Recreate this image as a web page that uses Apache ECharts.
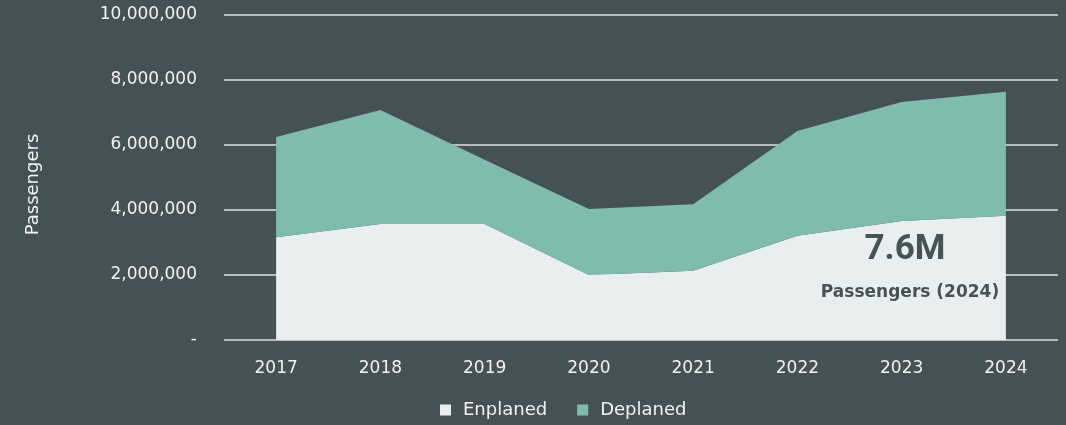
<!DOCTYPE html>
<html>
<head>
<meta charset="utf-8">
<script src="https://cdn.jsdelivr.net/npm/echarts@6/dist/echarts.min.js"></script>
<style>
  html, body { margin: 0; padding: 0; background: #445256; }
  #chart { width: 1066px; height: 425px; }
</style>
</head>
<body>
<div id="chart"></div>
<script>
// data
var years = ['2017', '2018', '2019', '2020', '2021', '2022', '2023', '2024'];
var enplaned = [3160000, 3570000, 3570000, 2000000, 2130000, 3210000, 3660000, 3820000];
var deplaned = [3090000, 3510000, 1980000, 2030000, 2050000, 3220000, 3660000, 3820000];
var yTicks = [0, 2000000, 4000000, 6000000, 8000000, 10000000];

var chart = echarts.init(document.getElementById('chart'));
var font = '"DejaVu Sans", sans-serif';

var option = {
  backgroundColor: '#445256',
  textStyle: { fontFamily: font },
  grid: { left: 224, right: 8, top: 15, bottom: 85 },
  legend: {
    bottom: 1,
    left: 435,
    itemWidth: 11,
    itemHeight: 11,
    itemGap: 30,
    icon: 'rect',
    textStyle: { color: '#f2f2f2', fontSize: 18, fontFamily: font, padding: [0, 0, 0, 7] },
    data: ['Enplaned', 'Deplaned']
  },
  xAxis: {
    type: 'category',
    data: years,
    boundaryGap: true,
    axisLine: { show: false },
    axisTick: { show: false },
    axisLabel: { color: '#f2f2f2', fontSize: 17, margin: 20 }
  },
  yAxis: {
    type: 'value',
    min: yTicks[0],
    max: yTicks[yTicks.length - 1],
    interval: 2000000,
    name: 'Passengers',
    nameLocation: 'middle',
    nameGap: 182,
    nameTextStyle: { color: '#f2f2f2', fontSize: 18, padding: [0, 14, 0, 0] },
    axisLine: { show: false },
    axisTick: { show: false },
    axisLabel: {
      color: '#f2f2f2',
      fontSize: 17,
      margin: 27,
      formatter: function (v) { return v === 0 ? '-' : v.toLocaleString('en-US'); }
    },
    splitLine: { lineStyle: { color: '#e0e0e0', width: 1.5 } }
  },
  series: [
    {
      name: 'Enplaned',
      type: 'line',
      stack: 'total',
      data: enplaned,
      symbol: 'none',
      lineStyle: { width: 0 },
      itemStyle: { color: '#e9efee' },
      areaStyle: { color: '#e9efee', opacity: 1 }
    },
    {
      name: 'Deplaned',
      type: 'line',
      stack: 'total',
      data: deplaned,
      symbol: 'none',
      lineStyle: { width: 0 },
      itemStyle: { color: '#80bcae' },
      areaStyle: { color: '#80bcae', opacity: 1 }
    }
  ],
  graphic: [
    {
      type: 'text',
      z: 100,
      x: 905,
      y: 250,
      style: {
        text: '7.6M', fill: '#455356', align: 'center', verticalAlign: 'middle',
        font: 'bold 35px Roboto, sans-serif'
      }
    },
    {
      type: 'text',
      z: 100,
      x: 910,
      y: 293,
      style: {
        text: 'Passengers (2024)', fill: '#455356', align: 'center', verticalAlign: 'middle',
        font: 'bold 17px "DejaVu Sans", sans-serif'
      }
    }
  ]
};

chart.setOption(option);
</script>
</body>
</html>
